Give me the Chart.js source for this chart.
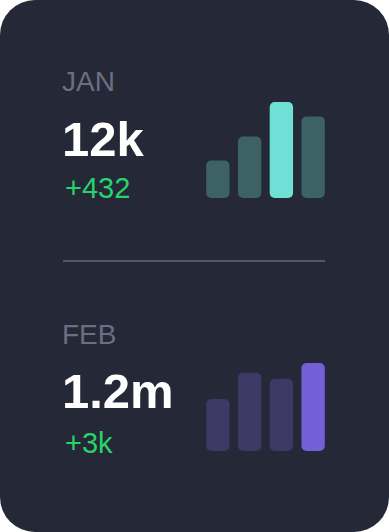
<!DOCTYPE html>
<html>
  <head>
    <meta charset="UTF-8">
    <title>Monthly stats</title>
    <script src="https://cdn.jsdelivr.net/npm/chart.js"></script>
    <style>
      body { margin: 0; background: #ffffff; font-family: "Liberation Sans", Arial, sans-serif; }
      .card { position: absolute; left: 0; top: 0; width: 389px; height: 532px; background: #252836; border-radius: 35px; }
      .txt { position: absolute; left: 62px; line-height: 1; white-space: nowrap; }
      .label { font-size: 28px; color: #6c6f82; }
      .value { font-size: 49px; font-weight: 700; color: #ffffff; }
      .delta { font-size: 29px; color: #27d36b; left: 65px; }
      .divider { position: absolute; left: 63px; top: 260px; width: 262px; height: 2px; background: #53566a; }
      canvas { position: absolute; }
    </style>
  </head>
  <body>
    <div class="card"></div>
    <div class="txt label" style="top:68px">JAN</div>
    <div class="txt value" style="top:115px">12k</div>
    <div class="txt delta" style="top:174px">+432</div>
    <div class="divider"></div>
    <div class="txt label" style="top:321px">FEB</div>
    <div class="txt value" style="top:367px">1.2m</div>
    <div class="txt delta" style="top:429px">+3k</div>

    <canvas id="janChart" width="127" height="96" style="left:202px; top:102px"></canvas>
    <canvas id="febChart" width="127" height="88" style="left:202px; top:363px"></canvas>

    <script>
      // valeurs (max = 100)
      const weeks = ['1', '2', '3', '4'];
      const janValues = [39, 64, 100, 85];
      const febValues = [59, 89, 82, 100];
      const janColors = ['#3d6266', '#3d6266', '#6ee0d5', '#3d6266'];
      const febColors = ['#3d3864', '#3d3864', '#3d3864', '#735fd8'];

      function miniBars(id, values, colors) {
        const ctx = document.getElementById(id).getContext('2d');
        return new Chart(ctx, {
          type: 'bar',
          data: {
            labels: weeks,
            datasets: [{
              data: values,
              backgroundColor: colors,
              borderRadius: 5,
              borderSkipped: false,
              barPercentage: 0.736,
              categoryPercentage: 1
            }]
          },
          options: {
            responsive: false,
            animation: false,
            layout: { padding: 0 },
            plugins: { legend: { display: false }, tooltip: { enabled: false } },
            scales: {
              x: { display: false },
              y: { display: false, min: 0, max: 100 }
            }
          }
        });
      }

      miniBars('janChart', janValues, janColors);
      miniBars('febChart', febValues, febColors);
    </script>
  </body>
</html>
